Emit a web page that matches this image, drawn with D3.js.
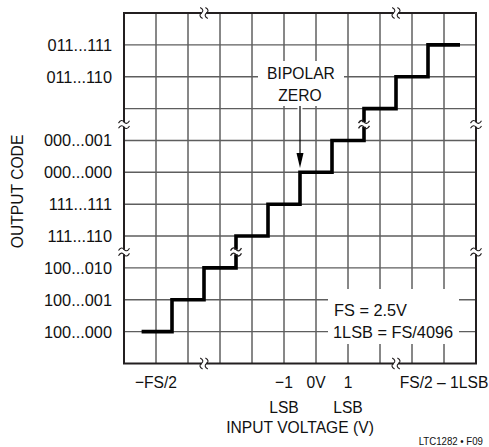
<!DOCTYPE html>
<html>
<head>
<meta charset="utf-8">
<script src="https://cdn.jsdelivr.net/npm/d3@7"></script>
<style>
  body { margin: 0; background: #fff; }
  svg text { font-family: "Liberation Sans", Arial, sans-serif; fill: #111; }
</style>
</head>
<body>
<svg id="chart" width="489" height="447"></svg>
<script>
// output codes, one per grid row (row 1 at the bottom); row 8 has no label
const codeRows = [1, 2, 3, 4, 5, 6, 7, 8, 9, 10];
const codeLabels = ["100...000", "100...001", "100...010", "111...110", "111...111",
                    "000...000", "000...001", "", "011...110", "011...111"];

// input voltage tick labels (grid column, lines of text)
const voltCols = [1, 5, 6, 7, 10];
const voltLabels = [["\u2212FS/2"], ["\u22121", "LSB"], ["0V"], ["1", "LSB"], ["FS/2 \u2013 1LSB"]];

// transfer staircase: code transition points (column, code row)
const stepX = [0.55, 1.5, 2.5, 3.5, 4.5, 5.5, 6.5, 7.5, 8.5, 9.5, 10.5];
const stepY = [1, 2, 3, 4, 5, 6, 7, 8, 9, 10, 10];

// scale breaks
const axisBreakCols = [2.5, 8.5];
const axisBreakRows = [3.5, 7.5];
const stairBreaks = [[3.5, 3.5], [7.5, 7.5]];

const nCols = 11, nRows = 11;
const width = 489, height = 447;
const margin = { top: 13, right: 13, bottom: 83.5, left: 124 };
const fontSize = 17;

const svg = d3.select("#chart");

const x = d3.scaleLinear().domain([0, nCols]).range([margin.left, width - margin.right]);
const y = d3.scaleLinear().domain([0, nRows]).range([height - margin.bottom, margin.top]);

// text helper: squeezed text at (tx, ty) to look like the condensed original
function label(tx, ty, str, anchor = "middle", squeeze = 0.92, size = fontSize, rot = 0) {
  return svg.append("text")
    .attr("transform", `translate(${tx},${ty}) rotate(${rot}) scale(${squeeze},1)`)
    .attr("text-anchor", anchor)
    .style("font-size", size + "px")
    .text(str);
}

// grid
svg.append("g")
  .selectAll("line")
  .data(d3.range(1, nCols))
  .join("line")
  .attr("x1", d => x(d)).attr("x2", d => x(d))
  .attr("y1", y(0)).attr("y2", y(nRows))
  .attr("stroke", "#111").attr("stroke-width", 1);

svg.append("g")
  .selectAll("line")
  .data(d3.range(1, nRows))
  .join("line")
  .attr("x1", x(0)).attr("x2", x(nCols))
  .attr("y1", d => y(d)).attr("y2", d => y(d))
  .attr("stroke", "#5e5e5e").attr("stroke-width", 1.4);

// white knockouts behind the notes
const knock = svg.append("g").attr("fill", "#fff");
knock.append("rect").attr("x", 258).attr("y", 61).attr("width", 86).attr("height", 25);
knock.append("rect").attr("x", 273).attr("y", 84).attr("width", 56).attr("height", 22);
knock.append("rect").attr("x", 328).attr("y", 289).attr("width", 131).attr("height", 55);

// staircase
const line = d3.line()
  .x((d, i) => x(stepX[i]))
  .y((d, i) => y(stepY[i]))
  .curve(d3.curveStepAfter);

svg.append("path")
  .datum(stepX)
  .attr("d", line)
  .attr("fill", "none")
  .attr("stroke", "#000")
  .attr("stroke-width", 3.6)
  .attr("stroke-linejoin", "miter");

// frame
svg.append("rect")
  .attr("x", x(0)).attr("y", y(nRows))
  .attr("width", x(nCols) - x(0)).attr("height", y(0) - y(nRows))
  .attr("fill", "none").attr("stroke", "#231f20").attr("stroke-width", 2);

// break symbol: white gap with two tildes; rot = 0 for a break across a vertical line
const tilde = "M-5.5,1.2 C-3.5,-2.2 -1.5,-2 0,0 S3.5,2.2 5.5,-1.2";
function breakMark(cx, cy, rot, lw) {
  const g = svg.append("g").attr("transform", `translate(${cx},${cy}) rotate(${rot})`);
  g.append("rect").attr("x", -4).attr("y", -2.3).attr("width", 8).attr("height", 4.6)
    .attr("fill", "#fff");
  [-2.6, 2.6].forEach(o => {
    g.append("path").attr("d", tilde).attr("transform", `translate(0,${o})`)
      .attr("fill", "none").attr("stroke", "#231f20").attr("stroke-width", lw);
  });
}
axisBreakRows.forEach(r => {
  breakMark(x(0), y(r), 0, 1.1);
  breakMark(x(nCols), y(r), 0, 1.1);
});
axisBreakCols.forEach(c => {
  breakMark(x(c), y(nRows), 90, 1.1);
  breakMark(x(c), y(0), 90, 1.1);
});
stairBreaks.forEach(([c, r]) => breakMark(x(c), y(r), 0, 1.3));

// y tick labels
codeRows.forEach((r, i) => label(112, y(r) + 6, codeLabels[i], "end", 0.96));

label(23, y(5.4), "OUTPUT CODE", "middle", 0.92, fontSize, -90);

// x tick labels
voltCols.forEach((c, i) => {
  voltLabels[i].forEach((t, j) => label(x(c), 388 + j * 25, t));
});

label(x(5.5), 433, "INPUT VOLTAGE (V)");
label(483, 445, "LTC1282 \u2022 F09", "end", 0.92, 10.5);

// notes
label(301, 79, "BIPOLAR");
label(300, 101, "ZERO");

const ax = x(5.5);
svg.append("line").attr("x1", ax).attr("x2", ax).attr("y1", 105).attr("y2", 113)
  .attr("stroke", "#fff").attr("stroke-width", 5);
svg.append("line").attr("x1", ax).attr("x2", ax).attr("y1", 106).attr("y2", 156)
  .attr("stroke", "#000").attr("stroke-width", 1.2);
svg.append("path")
  .attr("d", `M${ax - 3.5},153 L${ax + 3.5},153 L${ax},168 Z`)
  .attr("fill", "#000");

label(334, 316, "FS = 2.5V", "start", 0.96);
label(333, 338, "1LSB = FS/4096", "start", 0.96);
</script>
</body>
</html>
